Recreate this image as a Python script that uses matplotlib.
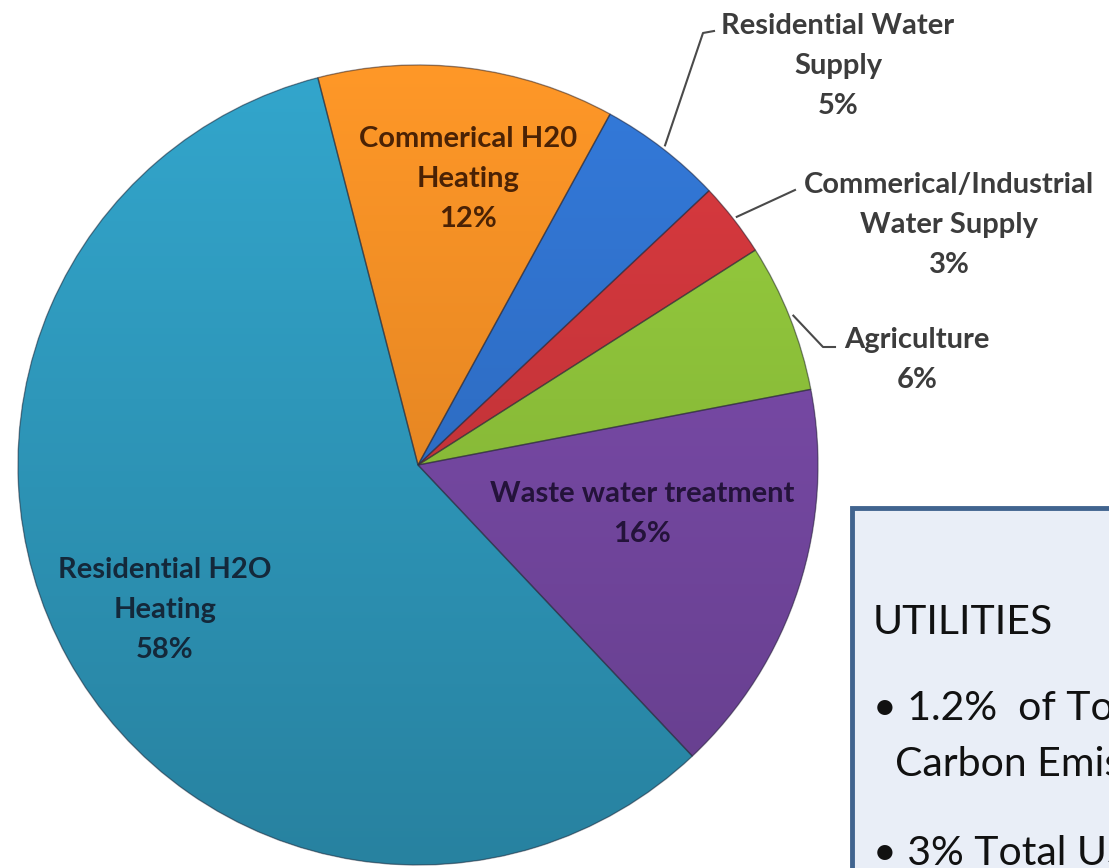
import numpy as np
import matplotlib.pyplot as plt
from matplotlib.colors import to_rgb
from matplotlib.patches import Wedge, Rectangle

# slice data, clockwise from the top
labels = ['Commerical H20\nHeating', 'Residential Water\nSupply', 'Commerical/Industrial\nWater Supply',
          'Agriculture', 'Waste water treatment', 'Residential H2O\nHeating']
shares = [12, 5, 3, 6, 16, 58]
colors = ['#F08A24', '#2F6FC7', '#C8353A', '#8BBE39', '#7548A2', '#2E97BA']

box_title = 'UTILITIES'
box_lines = ['\u2022 1.2%  of Total US', 'Carbon Emissions', '\u2022 3% Total US Energy']

W, H = 1109, 868
fig = plt.figure(figsize=(W / 100, H / 100), dpi=100)
ax = fig.add_axes([0, 0, 1, 1])

cx, cy, r = 418, H - 465, 400
wedges, _ = ax.pie(shares, colors=colors, startangle=104.5, counterclock=False,
                   center=(cx, cy), radius=r, wedgeprops=dict(linewidth=0))

# soft top-to-bottom shading inside each slice
t = np.linspace(0, 1, 256)[:, None, None]
for w, c in zip(wedges, colors):
    base = np.array(to_rgb(c))
    dark = base * 0.86
    light = np.clip(base * 1.1, 0, 1)
    grad = dark + (light - dark) * t
    im = ax.imshow(grad, extent=(cx - r, cx + r, cy - r, cy + r), origin='lower',
                   aspect='auto', zorder=2)
    im.set_clip_path(w)
    ax.add_patch(Wedge((cx, cy), r, w.theta1, w.theta2, fill=False,
                       edgecolor='#2b2b3a', linewidth=1.0, alpha=0.5, zorder=3))

# labels: position of each label block (pixel coords from top-left)
lab_pos = [(468, 179), (838, 66), (949, 225), (917, 360), (642, 514), (165, 610)]
lab_col = ['#4a2205', '#3c3c3c', '#3c3c3c', '#3c3c3c', '#24133a', '#14283a']
for i, (lab, s) in enumerate(zip(labels, shares)):
    x, y = lab_pos[i]
    ax.text(x, H - y, f'{lab}\n{s}%', ha='center', va='center', fontsize=21,
            fontweight='bold', family='Lato', color=lab_col[i], linespacing=1.68, zorder=5)

# leader lines for the small outside slices
elbows = {1: [(703, 33), (714, 31)], 2: [(782, 196), (795, 190)], 3: [(823, 347), (835, 347)]}
for i, pts in elbows.items():
    w = wedges[i]
    a = np.deg2rad((w.theta1 + w.theta2) / 2)
    xs = [cx + r * 1.01 * np.cos(a)] + [p[0] for p in pts]
    ys = [cy + r * 1.01 * np.sin(a)] + [H - p[1] for p in pts]
    ax.plot(xs, ys, color='#4a4a4a', lw=1.5, zorder=4)

# text box at the lower right
ax.add_patch(Rectangle((852, -20), 400, H - 508 + 20, facecolor='#E9EEF7',
                       edgecolor='#41648F', linewidth=3.5, zorder=6))
ax.text(873, H - 623, box_title, fontsize=29.5, family='Lato', color='#111111',
        va='center', ha='left', zorder=7)
ax.text(873, H - 708, box_lines[0], fontsize=29.5, family='Lato', color='#111111',
        va='center', ha='left', zorder=7, clip_on=True)
ax.text(895, H - 765, box_lines[1], fontsize=29.5, family='Lato', color='#111111',
        va='center', ha='left', zorder=7, clip_on=True)
ax.text(873, H - 853, box_lines[2], fontsize=29.5, family='Lato', color='#111111',
        va='center', ha='left', zorder=7, clip_on=True)

ax.set_xlim(0, W)
ax.set_ylim(0, H)
ax.set_aspect('auto')
ax.axis('off')
fig.savefig('out.png', dpi=100)
